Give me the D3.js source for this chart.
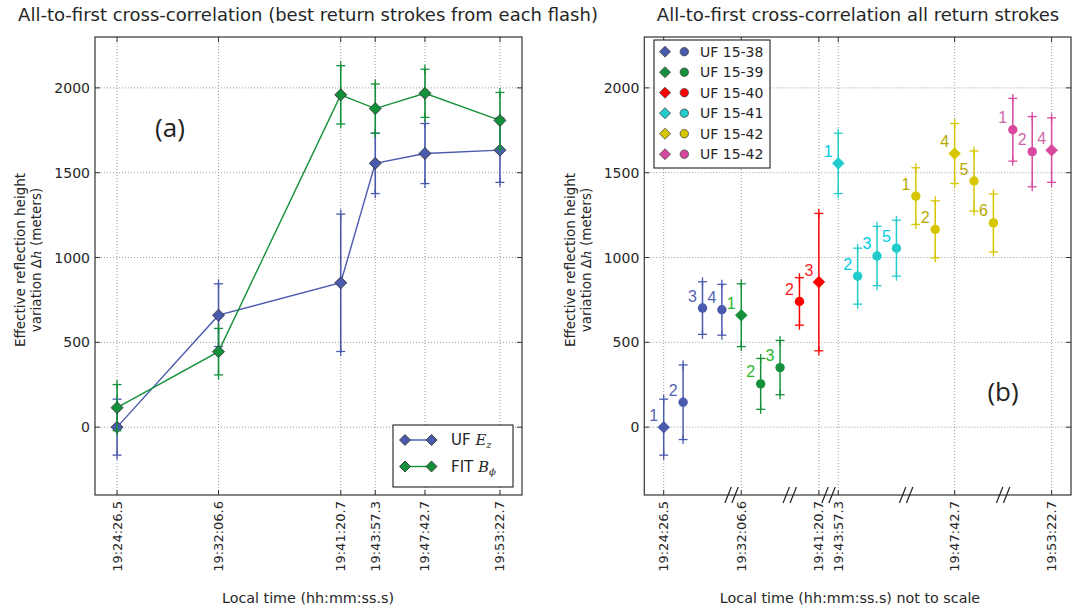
<!DOCTYPE html>
<html><head><meta charset="utf-8">
<script src="https://cdn.jsdelivr.net/npm/d3@7"></script>
<style>
body{margin:0;background:#fff}
svg{display:block}
text{font-family:"DejaVu Sans",sans-serif;fill:#262626}
</style>
</head><body>
<svg id="chart" width="1079" height="609"></svg>
<script>
// ---- data -------------------------------------------------------------
const tickTimes = ["19:24:26.5","19:32:06.6","19:41:20.7","19:43:57.3","19:47:42.7","19:53:22.7"];
const yTicks = [0, 500, 1000, 1500, 2000];

// Panel (a): best return stroke of each flash
const ufEz = [0, 660, 851, 1555, 1613, 1633];
const ufEzErr = [165, 185, 405, 178, 177, 190];
const fitBphi = [115, 445, 1959, 1878, 1968, 1808];
const fitBphiErr = [136, 137, 172, 145, 142, 165];

// Panel (b): every return stroke, grouped by flash
const flashNames = ["UF 15-38","UF 15-39","UF 15-40","UF 15-41","UF 15-42","UF 15-42"];
const strokeNums = [[1,2,3,4],[1,2,3],[2,3],[1,2,3,5],[1,2,4,5,6],[1,2,4]];
const strokeVals = [[0,147,702,692],[660,255,351],[741,855],[1555,890,1009,1055],[1362,1166,1613,1451,1204],[1753,1624,1633]];
const strokeErrs = [[165,220,155,150],[185,150,160],[140,405],[178,165,175,165],[167,168,177,177,171],[185,207,190]];
const bestStroke = [1,1,3,1,4,4];

const flashColors = ["#4a5aad","#15903a","#ff0000","#22cccc","#d6c600","#d9489f"];
const labelColors = ["#5363b5","#2bb52b","#ff1a1a","#00cbe6","#b8a800","#cc66aa"];

// ---- helpers ------------------------------------------------------------
const toSec = s => { const [h,m,x] = s.split(":"); return (+h)*3600 + (+m)*60 + (+x); };
const tickSec = tickTimes.map(toSec);

const svg = d3.select("#chart");
const plotTop = 37, plotBottom = 495;
const y = d3.scaleLinear().domain([-400, 2300]).range([plotBottom, plotTop]);

const diamond = s => `M0,${-s}L${s},0L0,${s}L${-s},0Z`;

function errBar(g, x, v, e, color, w) {
  const y0 = y(v - e), y1 = y(v + e);
  g.append("line").attr("x1", x).attr("x2", x).attr("y1", y0).attr("y2", y1)
    .attr("stroke", color).attr("stroke-width", w);
  [y0, y1].forEach(yy => {
    g.append("line").attr("x1", x - 4.5).attr("x2", x + 4.5).attr("y1", yy).attr("y2", yy)
      .attr("stroke", color).attr("stroke-width", 1.3);
    g.append("line").attr("x1", x).attr("x2", x).attr("y1", yy - 4.5).attr("y2", yy + 4.5)
      .attr("stroke", color).attr("stroke-width", 1.3);
  });
}

function frame(x0, x1, xTickPos, title, titleX, xLabel, xLabelX, yLabelX) {
  const g = svg.append("g");
  // grid
  xTickPos.forEach(px => g.append("line").attr("x1", px).attr("x2", px).attr("y1", plotTop).attr("y2", plotBottom)
    .attr("stroke", "#9a9a9a").attr("stroke-width", 1).attr("stroke-dasharray", "1,2"));
  yTicks.forEach(v => g.append("line").attr("x1", x0).attr("x2", x1).attr("y1", y(v)).attr("y2", y(v))
    .attr("stroke", "#9a9a9a").attr("stroke-width", 1).attr("stroke-dasharray", "1,2"));
  // inward ticks on all sides
  xTickPos.forEach(px => {
    g.append("line").attr("x1", px).attr("x2", px).attr("y1", plotBottom).attr("y2", plotBottom - 5).attr("stroke", "#333");
    g.append("line").attr("x1", px).attr("x2", px).attr("y1", plotTop).attr("y2", plotTop + 5).attr("stroke", "#333");
  });
  yTicks.forEach(v => {
    g.append("line").attr("x1", x0).attr("x2", x0 + 5).attr("y1", y(v)).attr("y2", y(v)).attr("stroke", "#333");
    g.append("line").attr("x1", x1).attr("x2", x1 - 5).attr("y1", y(v)).attr("y2", y(v)).attr("stroke", "#333");
    g.append("text").attr("x", x0 - 5).attr("y", y(v)).attr("text-anchor", "end")
      .attr("dominant-baseline", "central").style("font-size", "14px").text(v);
  });
  xTickPos.forEach((px, i) => g.append("text")
    .attr("transform", `translate(${px},${plotBottom + 6}) rotate(-90)`)
    .attr("text-anchor", "end").attr("dominant-baseline", "central")
    .style("font-size", "13px").text(tickTimes[i]));
  g.append("text").attr("x", titleX).attr("y", 21).attr("text-anchor", "middle")
    .style("font-size", "18px").text(title);
  g.append("text").attr("x", xLabelX).attr("y", 603).attr("text-anchor", "middle")
    .style("font-size", "14.3px").text(xLabel);
  const yl = g.append("text").attr("transform", `translate(${yLabelX},260) rotate(-90)`)
    .attr("text-anchor", "middle").style("font-size", "13.5px");
  yl.append("tspan").attr("x", 0).attr("dy", "-0.1em").text("Effective reflection height");
  const l2 = yl.append("tspan").attr("x", 0).attr("dy", "1.22em");
  l2.append("tspan").text("variation Δ");
  l2.append("tspan").style("font-family", "'DejaVu Serif',serif").style("font-style", "italic").text("h");
  l2.append("tspan").text(" (meters)");
  return g;
}

function box(x0, x1) {
  svg.append("rect").attr("x", x0).attr("y", plotTop).attr("width", x1 - x0).attr("height", plotBottom - plotTop)
    .attr("fill", "none").attr("stroke", "#333").attr("stroke-width", 1.2);
}

// ---- panel (a) ----------------------------------------------------------
const xa0 = 95, xa1 = 522;
const xa = d3.scaleLinear()
  .domain([tickSec[0] - 100, tickSec[tickSec.length - 1] + 100])
  .range([xa0, xa1]);
frame(xa0, xa1, tickSec.map(xa),
  "All-to-first cross-correlation (best return strokes from each flash)", 308,
  "Local time (hh:mm:ss.s)", 308, 26);

const seriesA = [
  { vals: ufEz, errs: ufEzErr, color: "#4a5aad" },
  { vals: fitBphi, errs: fitBphiErr, color: "#15903a" }
];
const pa = svg.append("g");
seriesA.forEach(s => {
  s.vals.forEach((v, i) => errBar(pa, xa(tickSec[i]), v, s.errs[i], s.color, 1.6));
  pa.append("path")
    .attr("d", d3.line().x((v, i) => xa(tickSec[i])).y(v => y(v))(s.vals))
    .attr("fill", "none").attr("stroke", s.color).attr("stroke-width", 1.4);
  s.vals.forEach((v, i) => pa.append("path").attr("d", diamond(6))
    .attr("transform", `translate(${xa(tickSec[i])},${y(v)})`)
    .attr("fill", s.color).attr("stroke", "#2a2a2a").attr("stroke-width", 0.8));
});
box(xa0, xa1);

svg.append("text").attr("x", 170).attr("y", 137).attr("text-anchor", "middle")
  .style("font-family", "'Open Sans',sans-serif").style("font-size", "26px").style("fill", "#231f20").text("(a)");

// legend (a)
const lga = svg.append("g");
lga.append("rect").attr("x", 393).attr("y", 425).attr("width", 120).attr("height", 62)
  .attr("fill", "#fff").attr("stroke", "#333").attr("stroke-width", 1.2);
[["UF ", "E", "z", "#4a5aad", 440], ["FIT ", "B", "ϕ", "#15903a", 466.5]].forEach(([t, m, sub, c, yy]) => {
  lga.append("line").attr("x1", 405).attr("x2", 431.5).attr("y1", yy).attr("y2", yy)
    .attr("stroke", c).attr("stroke-width", 1.4);
  [405, 431.5].forEach(xx => lga.append("path").attr("d", diamond(5.5))
    .attr("transform", `translate(${xx},${yy})`).attr("fill", c).attr("stroke", "#2a2a2a").attr("stroke-width", 0.8));
  const tx = lga.append("text").attr("x", 451).attr("y", yy).attr("dominant-baseline", "central")
    .style("font-size", "15px");
  tx.append("tspan").text(t);
  tx.append("tspan").style("font-family", "'DejaVu Serif',serif").style("font-style", "italic").text(m);
  tx.append("tspan").attr("dy", 4).style("font-family", "'DejaVu Serif',serif").style("font-style", "italic")
    .style("font-size", "10px").text(sub);
});

// ---- panel (b) ----------------------------------------------------------
const xb0 = 644.3, xb1 = 1071;
const nStrokes = d3.sum(strokeNums, s => s.length);
const xb = d3.scaleLinear().domain([-1, nStrokes]).range([xb0, xb1]);

// position index of each stroke along the (not to scale) axis
let idx = 0;
const strokes = [];
const bestIdx = [];
const flashStart = [];
strokeNums.forEach((nums, f) => {
  flashStart.push(idx);
  nums.forEach((n, k) => {
    const best = n === bestStroke[f];
    if (best) bestIdx.push(idx);
    strokes.push({ f, n, v: strokeVals[f][k], e: strokeErrs[f][k], i: idx, best });
    idx++;
  });
});

frame(xb0, xb1, bestIdx.map(xb),
  "All-to-first cross-correlation all return strokes", 858,
  "Local time (hh:mm:ss.s) not to scale", 850, 576);

const pb = svg.append("g");
strokes.forEach(s => {
  const px = xb(s.i), c = flashColors[s.f];
  errBar(pb, px, s.v, s.e, c, 1.5);
  if (s.best) {
    pb.append("path").attr("d", diamond(6)).attr("transform", `translate(${px},${y(s.v)})`)
      .attr("fill", c).attr("stroke", c).attr("stroke-width", 0.5);
  } else {
    pb.append("circle").attr("cx", px).attr("cy", y(s.v)).attr("r", 4.7).attr("fill", c);
  }
  pb.append("text").attr("x", px - 10).attr("y", y(s.v) - 12).attr("text-anchor", "middle")
    .attr("dominant-baseline", "central")
    .style("font-family", "'Liberation Sans',Arial,sans-serif").style("font-size", "16px")
    .style("fill", labelColors[s.f]).text(s.n);
});
box(xb0, xb1);

// axis break marks between flashes
flashStart.slice(1).forEach(st => {
  const cx = xb(st - 0.5);
  [-3.5, 3.5].forEach(dx => svg.append("line")
    .attr("x1", cx + dx - 3.2).attr("y1", plotBottom + 8).attr("x2", cx + dx + 3.2).attr("y2", plotBottom - 8)
    .attr("stroke", "#222").attr("stroke-width", 1.2));
});

svg.append("text").attr("x", 1003).attr("y", 401).attr("text-anchor", "middle")
  .style("font-family", "'Open Sans',sans-serif").style("font-size", "26px").style("fill", "#231f20").text("(b)");

// legend (b)
const lgb = svg.append("g");
lgb.append("rect").attr("x", 654).attr("y", 40).attr("width", 116).attr("height", 128)
  .attr("fill", "#fff").attr("stroke", "#333").attr("stroke-width", 1.2);
flashNames.forEach((name, f) => {
  const yy = 51.7 + f * 20.5;
  lgb.append("path").attr("d", diamond(5.5)).attr("transform", `translate(665,${yy})`)
    .attr("fill", flashColors[f]).attr("stroke", "#444").attr("stroke-width", 0.8);
  lgb.append("circle").attr("cx", 684.3).attr("cy", yy).attr("r", 4.2)
    .attr("fill", flashColors[f]).attr("stroke", "#444").attr("stroke-width", 0.8);
  lgb.append("text").attr("x", 700).attr("y", yy).attr("dominant-baseline", "central")
    .style("font-size", "14px").text(name);
});
</script>
</body></html>
